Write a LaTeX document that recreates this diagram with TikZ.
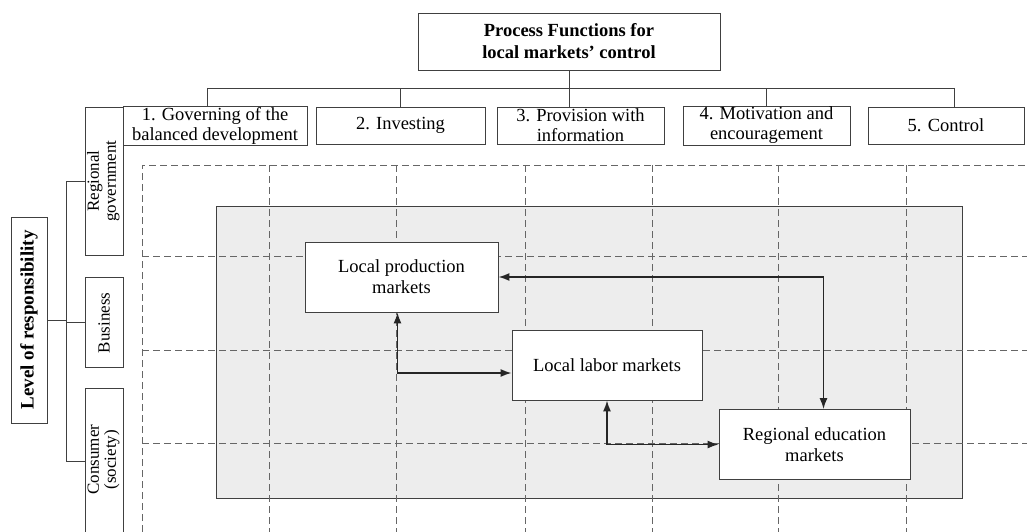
\documentclass[tikz,border=0pt]{standalone}
\usepackage{fontspec}
\setmainfont{Liberation Serif}
\usepackage{graphicx}
\usetikzlibrary{arrows.meta, positioning}
\tikzstyle{arrow} = [black!85, line width=1.6pt, {Latex[length=11pt,width=8pt]}-{Latex[length=11pt,width=8pt]}]
\tikzstyle{funcbox} = [rectangle, minimum height=37pt, text centered, align=center, draw=black!75, line width=0.8pt, fill=white, inner sep=1pt, font=\fontsize{18.5}{20}\selectfont]
\tikzstyle{sidebox} = [rectangle, minimum width=38pt, draw=black!75, line width=0.8pt, fill=white, inner sep=0pt, font=\fontsize{17}{17}\selectfont]
\tikzstyle{market} = [rectangle, minimum height=70pt, text centered, align=center, draw=black!75, line width=0.8pt, fill=white, font=\fontsize{18.5}{21}\selectfont]
\tikzset{
	gridline/.style={black!60, line width=0.8pt, dash pattern=on 7pt off 4pt},
	link/.style={black!75, line width=0.8pt}
}

\begin{document}
\begin{tikzpicture}[x=1pt, y=-1pt]
		\useasboundingbox (0,0) rectangle (1027,532);
		
		% Shaded field and dashed grid
		\draw [black!75, line width=0.8pt, fill=black!7] (216,206) rectangle (962,498);
		\foreach \x in {269,396,525,652,778,906}
			\draw [gridline] (\x,165) -- (\x,532);
		\draw [gridline] (142,532) -- (142,165) -- (1027,165);
		\foreach \y in {256,350,443}
			\draw [gridline] (142,\y) -- (1027,\y);
		
		% Process functions
		\node (PF) [funcbox, minimum width=302pt, minimum height=57pt, font=\bfseries\fontsize{18.5}{22}\selectfont] at (569,41.5) {Process Functions for\\local markets' control};
		\node (F1) [funcbox, minimum width=184pt] at (215,125.5) {1. Governing of the\\balanced development};
		\node (F2) [funcbox, minimum width=169pt] at (400.5,125.5) {2. Investing};
		\node (F3) [funcbox, minimum width=167pt] at (580.5,125.5) {3. Provision with\\information};
		\node (F4) [funcbox, minimum width=167pt] at (766.5,125.5) {4. Motivation and\\encouragement};
		\node (F5) [funcbox, minimum width=156pt] at (946,125.5) {5. Control};
		
		\coordinate (B1) at (207,88);
		\coordinate (B5) at (954,88);
		\draw [link] (B1) -- (B5);
		\draw [link] (PF.south) -- (PF.south |- F3.north);
		\draw [link] (B1) -- (B1 |- F1.north);
		\draw [link] (F2.north) -- (F2.north |- B1);
		\draw [link] (F4.north) -- (F4.north |- B1);
		\draw [link] (B5) -- (B5 |- F5.north);
		
		% Level of responsibility
		\node (LR) [sidebox, minimum width=36pt, minimum height=206pt, font=\bfseries\fontsize{19}{19}\selectfont] at (29,320) {\rotatebox{90}{Level of responsibility}};
		\node (RG) [sidebox, minimum height=148pt] at (104,181) {\rotatebox{90}{\begin{tabular}{@{}c@{}}Regional\\government\end{tabular}}};
		\node (BU) [sidebox, minimum height=90pt, below=22pt of RG] {\rotatebox{90}{Business}};
		\node (CO) [sidebox, minimum height=158pt, below=20pt of BU] {\rotatebox{90}{\hspace{16pt}\begin{tabular}{@{}c@{}}Consumer\\(society)\end{tabular}}};
		
		\coordinate (J) at (66,320);
		\draw [link] (LR.east) -- (J);
		\draw [link] (J) |- (RG.west);
		\draw [link] (J) |- (BU.west);
		\draw [link] (J) |- ([yshift=6pt]CO.west);
		
		% Markets
		\node (LP) [market, minimum width=193pt] at (401.5,277) {Local production\\markets};
		\node (LL) [market, minimum width=190pt] at (607,365) {Local labor markets};
		\node (RE) [market, minimum width=191pt] at (814.5,444.5) {Regional education\\markets};
		
		% Arrows between markets
		\draw [arrow] (LP.east) -| ([xshift=9pt]RE.north);
		\draw [arrow] ([xshift=-4pt]LP.south) |- ([yshift=-8pt]LL.west);
		\draw [arrow] (LL.south) |- (RE.west);
		
	\end{tikzpicture}
\end{document}
